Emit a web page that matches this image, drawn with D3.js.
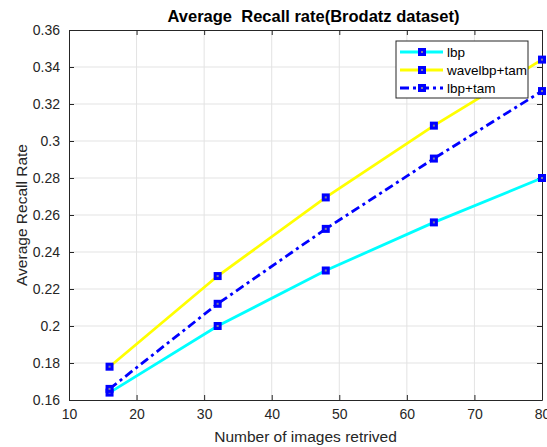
<!DOCTYPE html>
<html>
<head>
<meta charset="utf-8">
<script src="https://cdn.jsdelivr.net/npm/d3@7"></script>
<style>
  body { margin: 0; background: #fff; }
  svg { display: block; font-family: "Liberation Sans", Arial, sans-serif; }
</style>
</head>
<body>
<div id="chart"></div>
<script>
/* DATA */
const xValues = [16, 32, 48, 64, 80];
const lbp = [0.164, 0.200, 0.230, 0.256, 0.280];
const wavelbpTam = [0.178, 0.227, 0.2695, 0.3083, 0.344];
const lbpTam = [0.166, 0.212, 0.2525, 0.2905, 0.327];
const seriesNames = ["lbp", "wavelbp+tam", "lbp+tam"];
const xTicks = [10, 20, 30, 40, 50, 60, 70, 80];
const yTicks = [0.16, 0.18, 0.2, 0.22, 0.24, 0.26, 0.28, 0.3, 0.32, 0.34, 0.36];

const W = 547, H = 447,
  margin = {top: 30, right: 5, bottom: 47, left: 69},
  width = W - margin.left - margin.right,
  height = H - margin.top - margin.bottom;

const series = [
  {name: seriesNames[0], values: lbp, color: "#00ffff", dash: null},
  {name: seriesNames[1], values: wavelbpTam, color: "#ffff00", dash: null},
  {name: seriesNames[2], values: lbpTam, color: "#0000ff", dash: "9,4,3,4"}
];

const svg = d3.select("#chart").append("svg")
  .attr("width", W).attr("height", H);
const g = svg.append("g")
  .attr("transform", `translate(${margin.left},${margin.top})`);

const x = d3.scaleLinear().domain([10, 80]).range([0, width]);
const y = d3.scaleLinear().domain([0.16, 0.36]).range([height, 0]);

// grid
g.append("g").selectAll("line").data(xTicks.slice(1, -1)).join("line")
  .attr("x1", d => x(d)).attr("x2", d => x(d))
  .attr("y1", 0).attr("y2", height)
  .attr("stroke", "#e3e3e3").attr("stroke-width", 1);
g.append("g").selectAll("line").data(yTicks.slice(1, -1)).join("line")
  .attr("y1", d => y(d)).attr("y2", d => y(d))
  .attr("x1", 0).attr("x2", width)
  .attr("stroke", "#e3e3e3").attr("stroke-width", 1);

// axes (inward ticks, box)
const fmt = d => d3.format("")(+d.toFixed(2));
function styleAxis(sel) {
  sel.select(".domain").attr("stroke", "#262626");
  sel.selectAll(".tick line").attr("stroke", "#262626");
  sel.selectAll(".tick text").attr("fill", "#262626").style("font-size", "14px");
}
g.append("g").attr("transform", `translate(0,${height})`)
  .call(d3.axisBottom(x).tickValues(xTicks).tickSizeInner(-5).tickSizeOuter(0).tickPadding(9))
  .call(styleAxis);
g.append("g")
  .call(d3.axisTop(x).tickValues(xTicks).tickSizeInner(-5).tickSizeOuter(0).tickFormat(""))
  .call(styleAxis);
g.append("g")
  .call(d3.axisLeft(y).tickValues(yTicks).tickSizeInner(-5).tickSizeOuter(0).tickPadding(9).tickFormat(fmt))
  .call(styleAxis);
g.append("g").attr("transform", `translate(${width},0)`)
  .call(d3.axisRight(y).tickValues(yTicks).tickSizeInner(-5).tickSizeOuter(0).tickFormat(""))
  .call(styleAxis);

// lines
const line = d3.line().x((d, i) => x(xValues[i])).y(d => y(d));
series.forEach(s => {
  g.append("path").datum(s.values)
    .attr("fill", "none")
    .attr("stroke", s.color)
    .attr("stroke-width", 2.8)
    .attr("stroke-dasharray", s.dash)
    .attr("d", line);
});

function marker(sel, cx, cy) {
  sel.append("rect").attr("x", cx - 4).attr("y", cy - 4)
    .attr("width", 8).attr("height", 8).attr("fill", "#0000ff");
  sel.append("rect").attr("x", cx - 1).attr("y", cy - 1)
    .attr("width", 2).attr("height", 2).attr("fill", "#8080a0");
}
series.forEach(s => {
  s.values.forEach((v, i) => marker(g, x(xValues[i]), y(v)));
});

// title and labels
svg.append("text").attr("x", margin.left + width / 2 + 8).attr("y", 22)
  .attr("text-anchor", "middle").style("font-weight", "bold").style("font-size", "16.5px")
  .attr("fill", "#000").attr("xml:space", "preserve")
  .text("Average  Recall rate(Brodatz dataset)");
svg.append("text").attr("x", margin.left + width / 2) .attr("y", 442)
  .attr("text-anchor", "middle").style("font-size", "15.5px").attr("fill", "#262626")
  .text("Number of images retrived");
svg.append("text")
  .attr("transform", `translate(27,${margin.top + height / 2}) rotate(-90)`)
  .attr("text-anchor", "middle").style("font-size", "15.5px").attr("fill", "#262626")
  .text("Average Recall Rate");

// legend
const leg = svg.append("g").attr("transform", "translate(396,41)");
leg.append("rect").attr("width", 132).attr("height", 57)
  .attr("fill", "#fff").attr("stroke", "#262626").attr("stroke-width", 1);
series.forEach((s, i) => {
  const ly = 11 + i * 18;
  leg.append("line").attr("x1", 4).attr("x2", 47).attr("y1", ly).attr("y2", ly)
    .attr("stroke", s.color).attr("stroke-width", 2.8).attr("stroke-dasharray", s.dash);
  marker(leg, 26, ly);
  leg.append("text").attr("x", 51).attr("y", ly + 5)
    .style("font-size", "13.5px").attr("fill", "#000").text(s.name);
});
</script>
</body>
</html>
